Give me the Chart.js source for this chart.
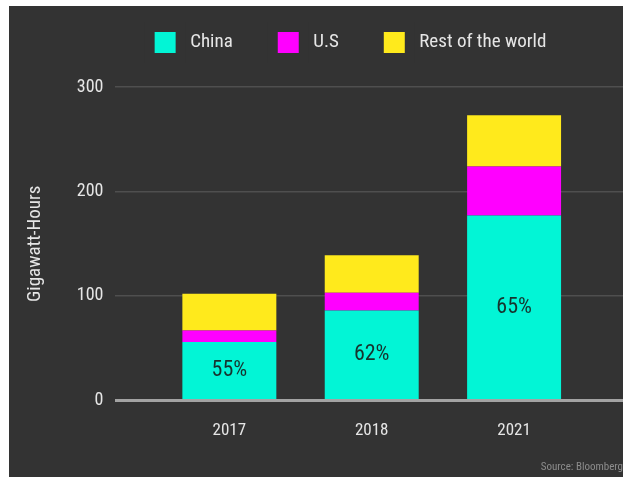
<!DOCTYPE html>
<html>
<head>
<meta charset="utf-8">
<script src="https://cdn.jsdelivr.net/npm/chart.js@4.4.1/dist/chart.umd.min.js"></script>
<style>
  html, body { margin: 0; padding: 0; background: #ffffff; }
  #panel { position: absolute; left: 9px; top: 6px; width: 614px; height: 471px; background: #333333; }
  canvas { display: block; }
</style>
</head>
<body>
<div id="panel"><canvas id="chart" width="614" height="471"></canvas></div>
<script>
// Battery capacity by region, gigawatt-hours
const years = ['2017', '2018', '2021'];
const china = [56, 86, 177];
const us = [11, 17, 47];
const restOfWorld = [35, 36, 49];

const PANEL = '#333333';
const TEXT = '#e6e6e6';
const FONT = "'Roboto Condensed', 'Liberation Sans Narrow', 'DejaVu Sans Condensed', sans-serif";

Chart.defaults.font.family = FONT;
Chart.defaults.color = TEXT;

const points = values => values.map((v, i) => ({ x: i, y: v }));

// China's share of each year's total, written inside the China segment
const shareLabels = {
  id: 'shareLabels',
  afterDatasetsDraw(chart) {
    const meta = chart.getDatasetMeta(0);
    const ctx = chart.ctx;
    ctx.save();
    ctx.font = '22px ' + FONT;
    ctx.fillStyle = '#17332e';
    ctx.textAlign = 'center';
    ctx.textBaseline = 'middle';
    meta.data.forEach((bar, i) => {
      const total = china[i] + us[i] + restOfWorld[i];
      const share = Math.round(china[i] / total * 100);
      ctx.fillText(share + '%', bar.x, (bar.y + bar.base) / 2);
    });
    ctx.restore();
  }
};

// Nudge the legend row into place once the layout is known
const legendPlacement = {
  id: 'legendPlacement',
  afterLayout(chart) {
    const lg = chart.legend;
    lg.left += 32; lg.right += 32;
    lg.top -= 19; lg.bottom -= 19;
  }
};

new Chart(document.getElementById('chart'), {
  type: 'bar',
  data: {
    datasets: [
      { label: 'China', data: points(china), backgroundColor: '#02f5d6', borderWidth: 0 },
      { label: 'U.S', data: points(us), backgroundColor: '#ff00ff', borderWidth: 0 },
      { label: 'Rest of the world', data: points(restOfWorld), backgroundColor: '#ffea1c', borderWidth: 0 }
    ]
  },
  options: {
    responsive: false,
    animation: false,
    layout: { padding: 0 },
    datasets: { bar: { barPercentage: 0.66, categoryPercentage: 1 } },
    plugins: {
      tooltip: { enabled: false },
      legend: {
        position: 'top',
        labels: {
          color: TEXT,
          font: { size: 19 },
          boxWidth: 31,
          boxHeight: 31,
          padding: 40,
          generateLabels(chart) {
            return Chart.defaults.plugins.legend.labels.generateLabels(chart)
              .map(item => Object.assign(item, { strokeStyle: PANEL, lineWidth: 10 }));
          }
        }
      },
      title: {
        display: true,
        position: 'bottom',
        align: 'end',
        text: 'Source: Bloomberg',
        color: '#8c8c8c',
        font: { size: 11, weight: 'normal' },
        padding: { top: 0, bottom: 3 }
      }
    },
    scales: {
      x: {
        type: 'linear',
        stacked: true,
        offset: false,
        min: -0.8,
        max: 2.765,
        grid: { display: false, drawTicks: false, offset: false },
        border: { display: false },
        ticks: {
          stepSize: 1,
          includeBounds: false,
          autoSkip: false,
          maxRotation: 0,
          color: TEXT,
          font: { size: 17 },
          padding: 20,
          callback: v => years[v] ?? ''
        }
      },
      y: {
        stacked: true,
        min: 0,
        max: 300,
        border: { display: false },
        grid: {
          drawTicks: false,
          color: c => (c.tick && c.tick.value === 0) ? '#a3a3a3' : '#4f4f4f',
          lineWidth: c => (c.tick && c.tick.value === 0) ? 3 : 1.5
        },
        ticks: { stepSize: 100, color: TEXT, font: { size: 18 }, padding: 12 },
        title: {
          display: true,
          text: 'Gigawatt-Hours',
          color: TEXT,
          font: { size: 19 },
          padding: { top: 15, bottom: 18 }
        }
      }
    }
  },
  plugins: [shareLabels, legendPlacement]
});
</script>
</body>
</html>
